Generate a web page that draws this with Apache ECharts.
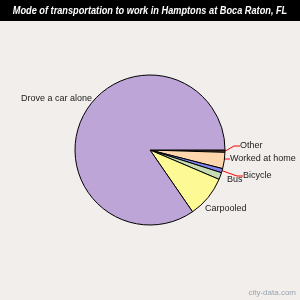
<!DOCTYPE html>
<html>
<head>
<meta charset="utf-8">
<script src="https://cdn.jsdelivr.net/npm/echarts@6/dist/echarts.min.js"></script>
<style>
  html, body { margin: 0; padding: 0; background: #f1eeeb; }
  #chart { width: 300px; height: 300px; }
</style>
</head>
<body>
<div id="chart"></div>
<script>
// 数据
var categories = ["Other", "Worked at home", "Bicycle", "Bus", "Carpooled", "Drove a car alone"];
var values = [0.5, 3.5, 0.9, 1.5, 9.0, 84.6];
var colors = ["#6e4b3b", "#fdd6ae", "#8383f2", "#c6dcb2", "#fdf995", "#bea5d8"];
var showLine = [true, true, true, false, false, false];

// label placement (left x, middle y)
var labelPos = [
  [240, 146],
  [230, 159],
  [243, 176],
  [227, 180],
  [205, 209],
  [21, 99]
];

var chart = echarts.init(document.getElementById("chart"));
var font = "Arial, 'Liberation Sans', sans-serif";

var option = {
  backgroundColor: "#f1eeeb",
  animation: false,
  graphic: [
    {
      type: "rect",
      left: 0,
      top: 0,
      shape: { width: 300, height: 21 },
      style: { fill: "#000" }
    },
    {
      type: "text",
      x: 150,
      y: 11,
      scaleX: 0.8,
      style: {
        text: "Mode of transportation to work in Hamptons at Boca Raton, FL",
        fill: "#fff",
        align: "center",
        verticalAlign: "middle",
        font: "italic bold 11.5px " + font
      }
    },
    {
      type: "text",
      right: 4,
      top: 289,
      style: {
        text: "city-data.com",
        fill: "#9aa3b0",
        font: "8px " + font
      }
    }
  ],
  series: [
    {
      type: "pie",
      center: [150, 150],
      radius: 75,
      startAngle: 0,
      clockwise: true,
      avoidLabelOverlap: false,
      itemStyle: { borderColor: "#000", borderWidth: 1 },
      label: {
        color: "#222",
        fontSize: 9,
        fontFamily: font
      },
      labelLine: {
        length: 4,
        length2: 6,
        lineStyle: { color: "#ff0000", width: 1 }
      },
      labelLayout: function (params) {
        var p = labelPos[params.dataIndex];
        return { x: p[0], y: p[1], align: "left", verticalAlign: "middle" };
      },
      data: categories.map(function (c, i) {
        return {
          name: c,
          value: values[i],
          itemStyle: { color: colors[i] },
          labelLine: { show: showLine[i] }
        };
      })
    }
  ]
};

chart.setOption(option);
</script>
</body>
</html>
